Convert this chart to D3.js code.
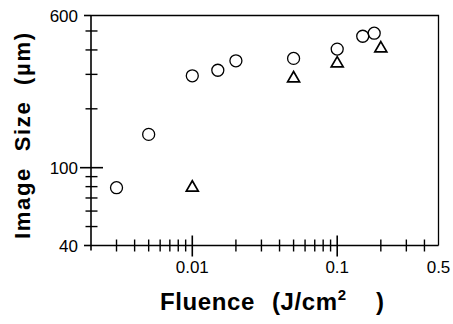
<!DOCTYPE html>
<meta charset="utf-8">
<style type="text/css">
  body {
    margin: 0;
    background: #fff;
  }

  svg text {
    font-family: "Liberation Sans", Arial, sans-serif;
    fill: #000;
  }

  .title {
    font-weight: bold;
    font-size: 22px;
  }

  .tick-label {
    font-size: 17px;
  }
</style>

<body>
</body>

<script src="https://d3js.org/d3.v7.min.js"></script>
<script>
  // fluence (J/cm2) and image size (um)
  var circleFluence = [0.003, 0.005, 0.01, 0.015, 0.02, 0.05, 0.1, 0.15, 0.18];
  var circleSize = [79, 148, 295, 315, 352, 362, 404, 470, 487];

  var triFluence = [0.01, 0.05, 0.1, 0.2];
  var triSize = [79, 286, 341, 407];

  var xDomain = [0.002, 0.5];
  var yDomain = [40, 600];
  var xLabels = [0.01, 0.1, 0.5];
  var yLabels = [40, 100, 600];

  var width = 453,
    height = 324;

  var plot = {
    left: 91,
    right: 438.5,
    top: 15.5,
    bottom: 245.5
  };

  var x = d3.scaleLog().domain(xDomain).range([plot.left, plot.right]),
    y = d3.scaleLog().domain(yDomain).range([plot.bottom, plot.top]);

  var svg = d3.select("body")
    .append("svg")
    .attr("width", width)
    .attr("height", height);

  // frame: top and right edges
  svg.append("path")
    .attr("d", "M" + plot.left + "," + plot.top + "H" + plot.right + "V" + plot.bottom)
    .attr("fill", "none")
    .attr("stroke", "#000")
    .attr("stroke-width", 1.3);

  // x axis
  var xAxis = svg.append("g").attr("class", "axis x-axis");

  xAxis.append("line")
    .attr("x1", plot.left).attr("x2", plot.right)
    .attr("y1", plot.bottom).attr("y2", plot.bottom)
    .attr("stroke", "#000").attr("stroke-width", 1.6);

  var xMajor = [0.01, 0.1];
  var xMinor = x.ticks().filter(function(d) {
    return d > xDomain[0] * 1.001 && d < xDomain[1] * 0.999 &&
      xMajor.every(function(m) { return Math.abs(d - m) > m * 1e-6; });
  });

  xAxis.selectAll(".minor")
    .data(xMinor)
    .enter().append("line")
    .attr("class", "minor")
    .attr("x1", function(d) { return x(d); })
    .attr("x2", function(d) { return x(d); })
    .attr("y1", plot.bottom - 6)
    .attr("y2", plot.bottom + 6)
    .attr("stroke", "#000").attr("stroke-width", 1.4);

  xAxis.selectAll(".major")
    .data(xMajor)
    .enter().append("line")
    .attr("class", "major")
    .attr("x1", function(d) { return x(d); })
    .attr("x2", function(d) { return x(d); })
    .attr("y1", plot.bottom - 10)
    .attr("y2", plot.bottom + 11)
    .attr("stroke", "#000").attr("stroke-width", 1.6);

  xAxis.selectAll(".tick-label")
    .data(xLabels)
    .enter().append("text")
    .attr("class", "tick-label")
    .attr("x", function(d) { return x(d); })
    .attr("y", 273)
    .attr("text-anchor", "middle")
    .text(function(d) { return String(d); });

  // y axis
  var yAxis = svg.append("g").attr("class", "axis y-axis");

  yAxis.append("line")
    .attr("x1", plot.left).attr("x2", plot.left)
    .attr("y1", plot.top).attr("y2", plot.bottom + 5)
    .attr("stroke", "#000").attr("stroke-width", 1.6);

  var yMinor = y.ticks().filter(function(d) {
    return yLabels.indexOf(d) < 0;
  });

  yAxis.selectAll(".minor")
    .data(yMinor)
    .enter().append("line")
    .attr("class", "minor")
    .attr("x1", plot.left - 5.5)
    .attr("x2", plot.left + 6.5)
    .attr("y1", function(d) { return y(d); })
    .attr("y2", function(d) { return y(d); })
    .attr("stroke", "#000").attr("stroke-width", 1.4);

  yAxis.selectAll(".major")
    .data(yLabels)
    .enter().append("line")
    .attr("class", "major")
    .attr("x1", function(d) { return d === 100 ? plot.left - 11 : plot.left - 7; })
    .attr("x2", function(d) { return d === 100 ? plot.left + 12 : plot.left; })
    .attr("y1", function(d) { return y(d); })
    .attr("y2", function(d) { return y(d); })
    .attr("stroke", "#000").attr("stroke-width", 1.6);

  yAxis.selectAll(".tick-label")
    .data(yLabels)
    .enter().append("text")
    .attr("class", "tick-label")
    .attr("x", 78)
    .attr("y", function(d) { return y(d); })
    .attr("dy", "0.36em")
    .attr("text-anchor", "end")
    .text(function(d) { return String(d); });

  // axis titles
  svg.append("text")
    .attr("class", "title")
    .attr("transform", "translate(30,136) rotate(-90)")
    .attr("text-anchor", "middle")
    .attr("textLength", 206)
    .attr("lengthAdjust", "spacing")
    .style("white-space", "pre")
    .text("Image  Size  (\u00b5m)");

  var xTitle = svg.append("text")
    .attr("class", "title")
    .attr("y", 310)
    .style("font-size", "24px")
    .style("letter-spacing", "0.6px");
  xTitle.append("tspan").attr("x", 160).text("Fluence");
  xTitle.append("tspan").attr("x", 272).text("(J/cm");
  xTitle.append("tspan")
    .attr("dy", -10)
    .style("font-size", "15px")
    .text("2");
  xTitle.append("tspan")
    .attr("x", 376)
    .attr("dy", 10)
    .text(")");

  // markers
  svg.selectAll(".circ")
    .data(circleFluence)
    .enter().append("circle")
    .attr("class", "circ")
    .attr("cx", function(d) { return x(d); })
    .attr("cy", function(d, i) { return y(circleSize[i]); })
    .attr("r", 6)
    .attr("fill", "none")
    .attr("stroke", "#000")
    .attr("stroke-width", 1.3);

  var tri = d3.symbol().type(d3.symbolTriangle).size(62);

  svg.selectAll(".tri")
    .data(triFluence)
    .enter().append("path")
    .attr("class", "tri")
    .attr("transform", function(d, i) {
      return "translate(" + x(d) + "," + y(triSize[i]) + ")";
    })
    .attr("d", tri)
    .attr("fill", "none")
    .attr("stroke", "#000")
    .attr("stroke-width", 1.7);
</script>
